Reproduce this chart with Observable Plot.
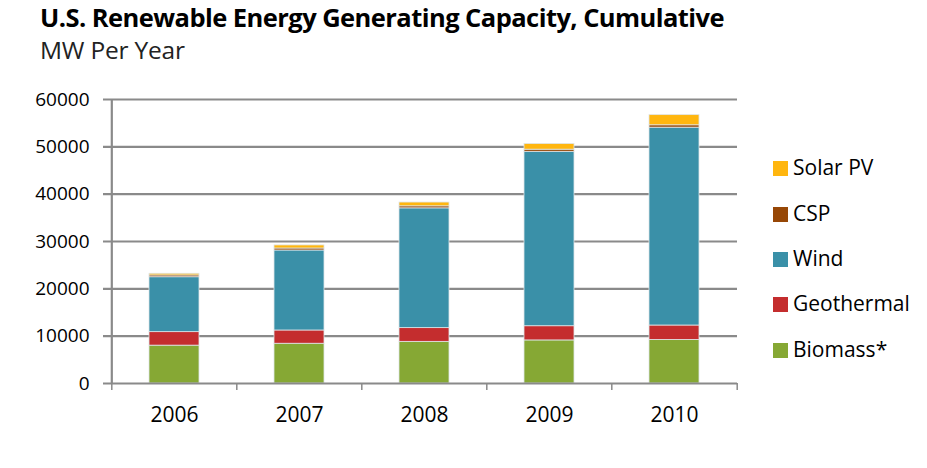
<!DOCTYPE html>
<html>
<head>
<meta charset="utf-8">
<script src="https://cdn.jsdelivr.net/npm/d3@7"></script>
<script src="https://cdn.jsdelivr.net/npm/@observablehq/plot@0.6"></script>
<style>
  html, body { margin: 0; padding: 0; background: #fff; }
  #wrap { position: relative; width: 927px; height: 468px; overflow: hidden; font-family: "Open Sans", sans-serif; }
  #title { position: absolute; left: 40px; top: 0px; font-size: 25.5px; line-height: normal; font-weight: 700; color: #000; letter-spacing: -0.55px; white-space: nowrap; }
  #subtitle { position: absolute; left: 40px; top: 33px; font-size: 24.5px; line-height: 34px; color: #222; letter-spacing: -0.2px; white-space: nowrap; }
  #chart { position: absolute; left: 0; top: 80px; }
  #legend { position: absolute; left: 773px; top: 0; }
  .li { position: absolute; left: 0; white-space: nowrap; font-size: 21px; color: #000; line-height: 22px; }
  .sw { display: inline-block; width: 15px; height: 15px; margin-right: 5px; vertical-align: -1px; }
</style>
</head>
<body>
<div id="wrap">
  <div id="title">U.S. Renewable Energy Generating Capacity, Cumulative</div>
  <div id="subtitle">MW Per Year</div>
  <div id="chart"></div>
  <div id="legend"></div>
</div>
<script>
const years = ["2006", "2007", "2008", "2009", "2010"];
const seriesNames = ["Biomass*", "Geothermal", "Wind", "CSP", "Solar PV"];
const seriesColors = ["#86a834", "#c42d2e", "#3a90a8", "#974706", "#ffb60f"];
const biomass    = [8000, 8400, 8800, 9100, 9200];
const geothermal = [2850, 2800, 2900, 3000, 3050];
const wind       = [11600, 16900, 25300, 36850, 41800];
const csp        = [380, 420, 430, 450, 500];
const solarPV    = [350, 650, 800, 1200, 2150];
const yTicks = [0, 10000, 20000, 30000, 40000, 50000, 60000];

const seriesValues = [biomass, geothermal, wind, csp, solarPV];
const rows = [];
seriesNames.forEach((s, si) => {
  years.forEach((yr, yi) => rows.push({year: yr, series: s, value: seriesValues[si][yi]}));
});

const gray = "#8a8a8a";
const chart = Plot.plot({
  width: 927,
  height: 388,
  marginTop: 19,
  marginBottom: 85,
  marginLeft: 110,
  marginRight: 190,
  style: {fontFamily: "Open Sans, sans-serif", fontSize: "17px", color: "#000", background: "transparent"},
  x: {domain: years, paddingInner: 0.6, paddingOuter: 0.3, label: null},
  y: {domain: [0, 60000], ticks: yTicks, label: null},
  color: {domain: seriesNames, range: seriesColors},
  marks: [
    Plot.ruleY(yTicks.slice(1), {stroke: gray, strokeWidth: 2.2, insetLeft: -7}),
    Plot.barY(rows, Plot.stackY({x: "year", y: "value", fill: "series", order: seriesNames, stroke: "#dfe6e8", strokeWidth: 0.8})),
    Plot.ruleX([0], {x: () => years[0], dx: -62.7, y1: 0, y2: 60000, stroke: gray, strokeWidth: 2.2}),
    Plot.ruleY([0], {stroke: gray, strokeWidth: 2.2, insetLeft: -7}),
    Plot.ruleX(years, {x: d => d, dx: -62.7, y1: 0, y2: 0, insetBottom: -7, stroke: gray, strokeWidth: 1.5}),
    Plot.ruleX([years[years.length - 1]], {x: d => d, dx: 62.7, y1: 0, y2: 0, insetBottom: -7, stroke: gray, strokeWidth: 1.5}),
    Plot.axisY({ticks: yTicks, tickSize: 0, tickPadding: 21, tickFormat: d => String(d), fontSize: 19, fill: "#000", style: {letterSpacing: "-1.2px"}}),
    Plot.axisX({tickSize: 0, tickPadding: 24, fontSize: 21, fill: "#000", style: {letterSpacing: "-0.3px"}})
  ]
});
document.getElementById("chart").appendChild(chart);

const legend = document.getElementById("legend");
const legendOrder = ["Solar PV", "CSP", "Wind", "Geothermal", "Biomass*"];
const legendTops = [156, 202, 247, 292, 338];
legendOrder.forEach((name, i) => {
  const d = document.createElement("div");
  d.className = "li";
  d.style.top = legendTops[i] + "px";
  const sw = document.createElement("span");
  sw.className = "sw";
  sw.style.background = seriesColors[seriesNames.indexOf(name)];
  d.appendChild(sw);
  d.appendChild(document.createTextNode(name));
  legend.appendChild(d);
});
</script>
</body>
</html>
